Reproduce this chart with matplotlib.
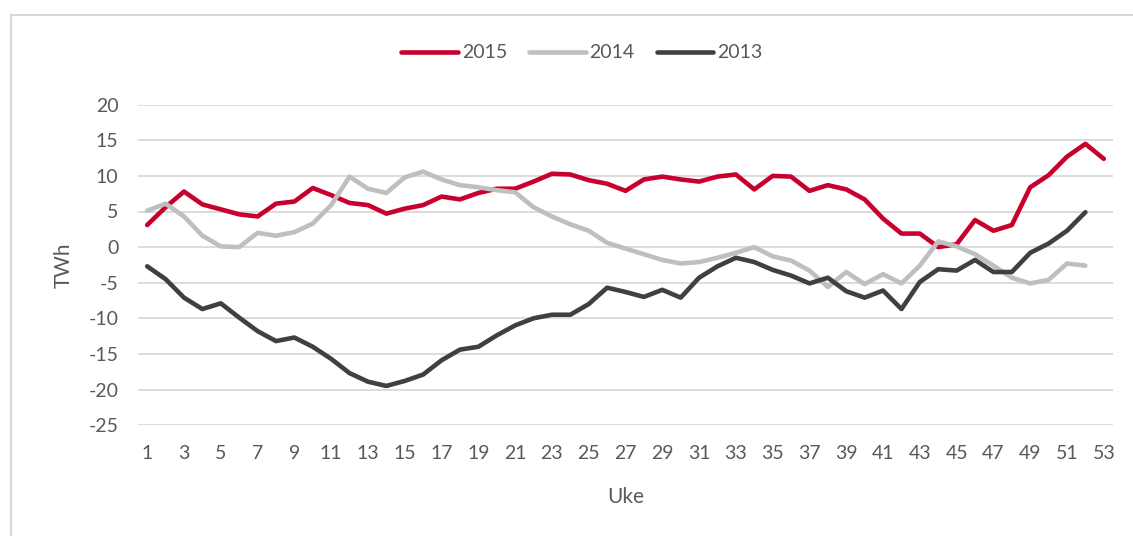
import matplotlib
matplotlib.use("Agg")
import matplotlib.pyplot as plt
from matplotlib.patches import Rectangle

plt.rcParams['font.family'] = ['Lato', 'DejaVu Sans']
plt.rcParams['axes.unicode_minus'] = False

weeks_2015 = list(range(1, 54))
weeks_prev = list(range(1, 53))

y2015 = [3.1, 5.6, 7.8, 6.0, 5.3, 4.6, 4.3, 6.1, 6.4, 8.3,
         7.3, 6.2, 5.9, 4.7, 5.4, 5.9, 7.1, 6.7, 7.6, 8.2,
         8.2, 9.2, 10.3, 10.2, 9.4, 8.9, 7.9, 9.5, 9.9, 9.5,
         9.2, 9.9, 10.2, 8.1, 10.0, 9.9, 7.9, 8.7, 8.1, 6.7,
         4.0, 1.9, 1.9, 0.0, 0.4, 3.8, 2.3, 3.1, 8.4, 10.1,
         12.7, 14.5, 12.4]

y2014 = [5.1, 6.1, 4.3, 1.6, 0.1, 0.0, 2.0, 1.6, 2.1, 3.3,
         5.9, 9.9, 8.2, 7.6, 9.8, 10.6, 9.5, 8.7, 8.4, 8.0,
         7.7, 5.6, 4.3, 3.2, 2.3, 0.6, -0.2, -1.0, -1.8, -2.3,
         -2.1, -1.5, -0.8, 0.0, -1.3, -1.9, -3.3, -5.6, -3.5, -5.2,
         -3.8, -5.1, -2.6, 0.8, 0.1, -1.0, -2.6, -4.3, -5.1, -4.6,
         -2.3, -2.6]

y2013 = [-2.7, -4.5, -7.1, -8.7, -7.9, -9.9, -11.8, -13.2, -12.7, -14.0,
         -15.7, -17.7, -18.9, -19.5, -18.8, -17.9, -15.9, -14.4, -14.0, -12.4,
         -11.0, -10.0, -9.5, -9.5, -8.0, -5.7, -6.3, -7.0, -6.0, -7.1,
         -4.3, -2.7, -1.5, -2.1, -3.2, -4.0, -5.1, -4.3, -6.2, -7.1,
         -6.1, -8.7, -4.9, -3.1, -3.3, -1.8, -3.5, -3.5, -0.8, 0.5,
         2.3, 4.9]

series_labels = ['2015', '2014', '2013']
colors = ['#C8002D', '#BFBFBF', '#404040']
x_ticks = list(range(1, 54, 2))
y_ticks = list(range(-25, 21, 5))

text_color = '#595959'
fs = 14

fig = plt.figure(figsize=(11.33, 5.36), dpi=100)
# chart border (only top/left visible in crop)
fig.patches.append(Rectangle((11 / 1133, -0.1), 1.2, 1.1 - 15 / 536,
                             transform=fig.transFigure, fill=False,
                             edgecolor='#D9D9D9', linewidth=1.5))

ax = fig.add_axes([138 / 1133, 1 - 425.1 / 536, (1113 - 138) / 1133, (425.1 - 104.7) / 536])
for yv, lab, c, xs in [(y2015, series_labels[0], colors[0], weeks_2015),
                       (y2014, series_labels[1], colors[1], weeks_prev),
                       (y2013, series_labels[2], colors[2], weeks_prev)]:
    ax.plot(xs, yv, color=c, lw=3.3, label=lab, solid_capstyle='round', solid_joinstyle='round', zorder=3)

ax.set_xlim(0.5, 53.5)
ax.set_ylim(-25, 20)
ax.set_xticks(x_ticks)
ax.set_yticks(y_ticks)
ax.tick_params(axis='both', length=0, labelsize=fs, colors=text_color)
ax.tick_params(axis='x', pad=14)
ax.tick_params(axis='y', pad=14)
ax.grid(axis='y', color='#D9D9D9', lw=1.3, zorder=0)
for s in ax.spines.values():
    s.set_visible(False)

ax.set_ylabel('TWh', fontsize=fs + 1, color=text_color, labelpad=11)
ax.set_xlabel('Uke', fontsize=fs + 1, color=text_color, labelpad=18)

leg = fig.legend(*ax.get_legend_handles_labels(), loc='center',
                 bbox_to_anchor=(582 / 1133, 1 - 53 / 536),
                 ncol=3, frameon=False, fontsize=fs, handlelength=2.9, handletextpad=0.2,
                 columnspacing=1.15, labelcolor=text_color)

fig.savefig('out.png', dpi=100, facecolor='white')
